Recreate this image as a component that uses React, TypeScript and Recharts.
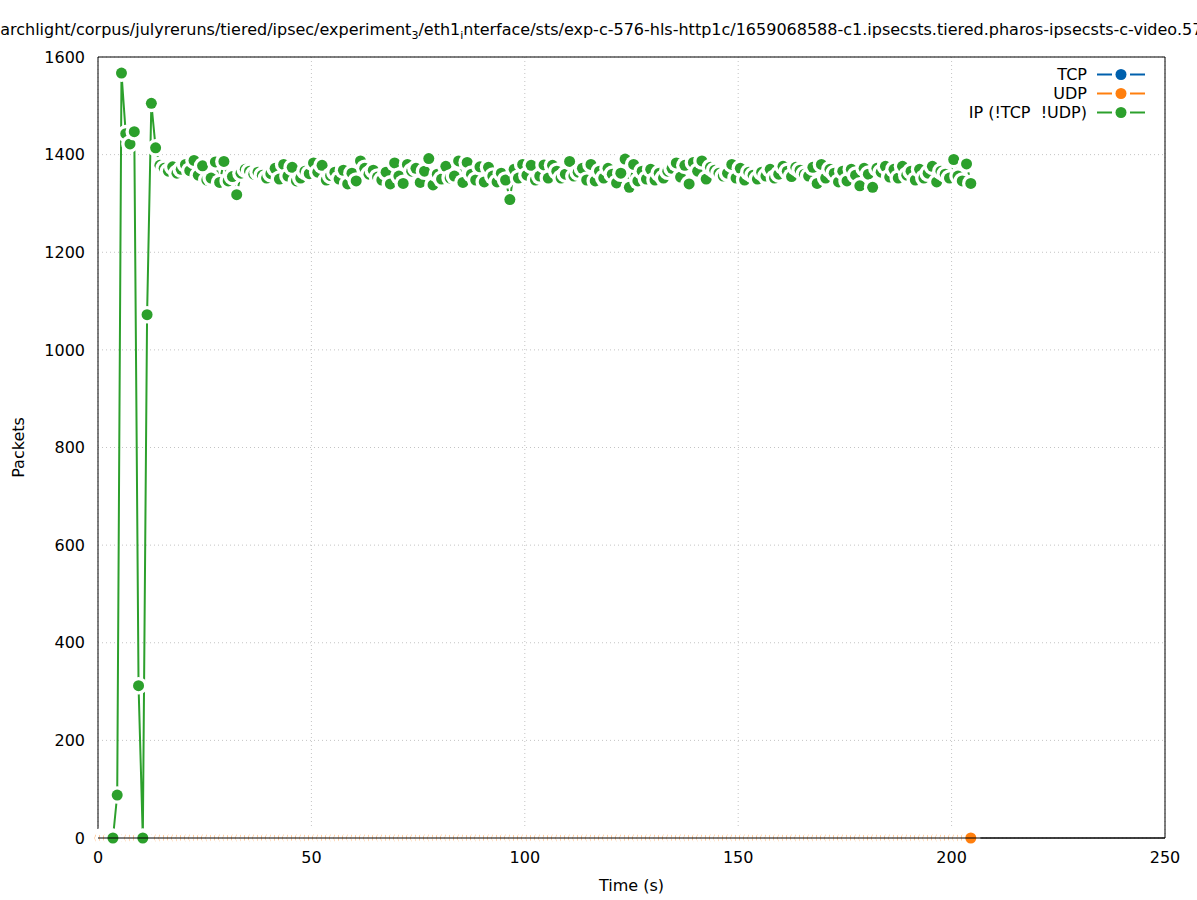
import React from 'react';
import { LineChart, Line, XAxis, YAxis, CartesianGrid, ReferenceLine } from 'recharts';

const FONT = '"DejaVu Sans", sans-serif';

// one sample per second, first sample at 0.5 s
const sampleTimes = Array.from({ length: 205 }, (_, i) => 0.5 + i);

// IP (!TCP !UDP) packets per sample; first three samples have no IP value
const ipPackets: (number | null)[] = [
  null, null, null,
  0, 88, 1567, 1443, 1422, 1447, 312, 0, 1072, 1505, 1414,
  1378, 1372, 1366, 1375, 1362, 1370, 1380, 1367, 1388, 1358,
  1377, 1348, 1352, 1385, 1343, 1386, 1346, 1355, 1318, 1362,
  1370, 1366, 1360, 1364, 1358, 1352, 1361, 1372, 1350, 1380,
  1356, 1374, 1346, 1352, 1366, 1361, 1383, 1364, 1378, 1348,
  1357, 1364, 1350, 1368, 1340, 1362, 1346, 1387, 1372, 1360,
  1368, 1354, 1348, 1364, 1340, 1383, 1356, 1341, 1380, 1366,
  1372, 1343, 1366, 1392, 1338, 1360, 1350, 1376, 1352, 1356,
  1387, 1343, 1384, 1360, 1348, 1375, 1344, 1374, 1356, 1344,
  1362, 1348, 1308, 1370, 1352, 1380, 1358, 1378, 1348, 1356,
  1379, 1352, 1378, 1366, 1352, 1360, 1386, 1356, 1364, 1372,
  1348, 1380, 1346, 1366, 1352, 1372, 1360, 1342, 1362, 1391,
  1333, 1380, 1346, 1366, 1350, 1370, 1348, 1362, 1352, 1366,
  1372, 1383, 1354, 1378, 1340, 1384, 1366, 1387, 1350, 1374,
  1368, 1362, 1356, 1362, 1380, 1352, 1372, 1348, 1364, 1358,
  1350, 1364, 1356, 1370, 1352, 1360, 1376, 1366, 1355, 1374,
  1368, 1360, 1356, 1374, 1341, 1380, 1352, 1370, 1362, 1344,
  1366, 1346, 1370, 1358, 1336, 1372, 1360, 1333, 1372, 1364,
  1376, 1354, 1370, 1352, 1376, 1358, 1366, 1348, 1370, 1352,
  1362, 1376, 1344, 1366, 1360, 1352, 1390, 1356, 1346, 1381, 1341,
];

// TCP and UDP stay at zero for the whole run
const tcpPackets = sampleTimes.map(() => 0);
const udpPackets = sampleTimes.map(() => 0);

const xTicks = [0, 50, 100, 150, 200, 250];
const yTicks = [0, 200, 400, 600, 800, 1000, 1200, 1400, 1600];

const series = [
  { key: 'tcp', name: 'TCP', color: '#0060ad', halo: 9.5 },
  { key: 'udp', name: 'UDP', color: '#ff7f0e', halo: 9.5 },
  { key: 'ip', name: 'IP (!TCP  !UDP)', color: '#2ca02c', halo: 8.8 },
];

const data = sampleTimes.map((t, i) => ({
  t,
  tcp: tcpPackets[i],
  udp: udpPackets[i],
  ip: ipPackets[i],
}));

const HaloDot = (props: any) => {
  const { cx, cy, index, color, halo } = props;
  if (cx == null || cy == null || props.value == null) return <g key={`e${index}`} />;
  return (
    <g key={`d${index}`}>
      <circle cx={cx} cy={cy} r={halo} fill="#fff" />
      <circle cx={cx} cy={cy} r={5.5} fill={color} />
    </g>
  );
};

const YLabel = (props: any) => {
  const vb = props.viewBox || { y: 57, height: 781 };
  const cy = vb.y + vb.height / 2;
  return (
    <text x={24} y={cy} transform={`rotate(-90 24 ${cy})`} textAnchor="middle"
      fontFamily={FONT} fontSize={16} fill="#000">Packets</text>
  );
};

const tickStyle = { fill: '#000', fontSize: 16, fontFamily: FONT };

export default function App() {
  return (
    <div style={{ position: 'relative', width: 1197, height: 900, background: '#fff', fontFamily: FONT }}>
      <style>{'body{margin:0}'}</style>
      <LineChart width={1197} height={900} data={data} margin={{ top: 57, right: 32, bottom: 0, left: 0 }}>
        <CartesianGrid stroke="#c4c4c4" strokeDasharray="1 3" />
        <XAxis dataKey="t" type="number" domain={[0, 250]} ticks={xTicks} height={62}
          tickLine={false} tickMargin={8} tick={tickStyle} axisLine={{ stroke: '#000' }}
          label={{ value: 'Time (s)', position: 'insideBottom', offset: 9, fill: '#000', fontSize: 16, fontFamily: FONT }} />
        <XAxis xAxisId="xb" dataKey="t" type="number" domain={[0, 250]} ticks={xTicks}
          orientation="bottom" mirror tick={false} axisLine={false} tickSize={7} tickLine={{ stroke: '#000' }} />
        <XAxis xAxisId="xt" dataKey="t" type="number" domain={[0, 250]} ticks={xTicks}
          orientation="top" mirror tick={false} axisLine={{ stroke: '#000' }} tickSize={7} tickLine={{ stroke: '#000' }} />
        <YAxis type="number" domain={[0, 1600]} ticks={yTicks} width={98}
          tickLine={false} tickMargin={7} tick={tickStyle} axisLine={{ stroke: '#000' }}
          label={<YLabel />} />
        <YAxis yAxisId="yl" type="number" domain={[0, 1600]} ticks={yTicks}
          orientation="left" mirror tick={false} axisLine={false} tickSize={7} tickLine={{ stroke: '#000' }} />
        <YAxis yAxisId="yr" type="number" domain={[0, 1600]} ticks={yTicks}
          orientation="right" mirror tick={false} axisLine={{ stroke: '#000' }} tickSize={7} tickLine={{ stroke: '#000' }} />
        {series.map((s) => (
          <Line key={s.key} dataKey={s.key} name={s.name} type="linear" stroke={s.color} strokeWidth={2}
            isAnimationActive={false} connectNulls={false}
            dot={(p: any) => <HaloDot {...p} color={s.color} halo={s.halo} />} activeDot={false} />
        ))}
        {/* bottom border in front of the points, as in the source plot */}
        <ReferenceLine y={0} stroke="#000" strokeWidth={1} ifOverflow="visible" {...({ zIndex: 2000 } as any)} />
      </LineChart>

      <svg width={1197} height={50} style={{ position: 'absolute', left: 0, top: 0, pointerEvents: 'none' }}>
        <text x={-18} y={35} fontFamily={FONT} fontSize={16} fill="#000">
          searchlight/corpus/julyreruns/tiered/ipsec/experiment
          <tspan fontSize={11} dy={4}>3</tspan>
          <tspan dy={-4}>/eth1</tspan>
          <tspan fontSize={11} dy={4}>i</tspan>
          <tspan dy={-4}>nterface/sts/exp-c-576-hls-http1c/1659068588-c1.ipsecsts.tiered.pharos-ipsecsts-c-video.57</tspan>
        </text>
      </svg>

      <div style={{ position: 'absolute', top: 65, left: 0, width: 1145, fontSize: 16, lineHeight: '19px', color: '#000' }}>
        {series.map((s) => (
          <div key={s.key} style={{ display: 'flex', justifyContent: 'flex-end', alignItems: 'center', height: 19 }}>
            <span style={{ whiteSpace: 'pre' }}>{s.name}</span>
            <svg width={48} height={19} style={{ marginLeft: 10 }}>
              <line x1={0} x2={15} y1={9.5} y2={9.5} stroke={s.color} strokeWidth={2} />
              <line x1={33} x2={48} y1={9.5} y2={9.5} stroke={s.color} strokeWidth={2} />
              <circle cx={24} cy={9.5} r={5.5} fill={s.color} />
            </svg>
          </div>
        ))}
      </div>
    </div>
  );
}
